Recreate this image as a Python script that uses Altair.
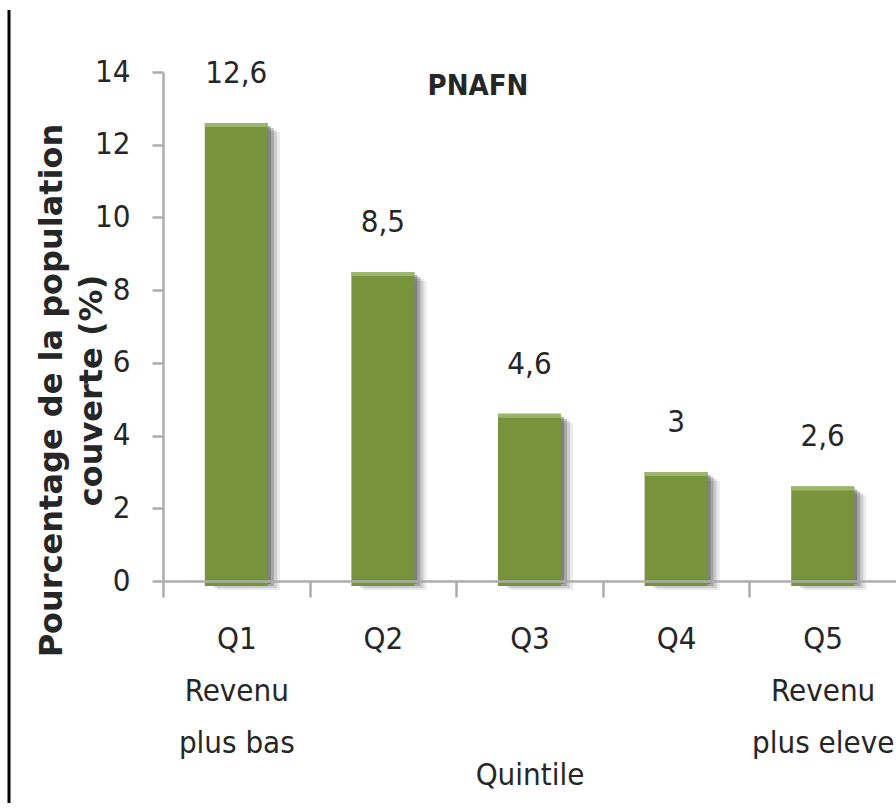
import altair as alt
import pandas as pd

# Coverage of the PNAFN programme by income quintile (%)
quintiles = ["Q1", "Q2", "Q3", "Q4", "Q5"]
coverage = [12.6, 8.5, 4.6, 3.0, 2.6]
y_ticks = [0, 2, 4, 6, 8, 10, 12, 14]

NARROW = "Liberation Sans Narrow, DejaVu Sans Condensed, sans-serif"
TEXT = "#262626"
AXIS_GREY = "#ADADAD"
GREEN = "#77933C"
FS = 31

df = pd.DataFrame({"q": quintiles, "v": coverage})

W, H = 733, 509
STEP = W / len(quintiles)

x_enc = alt.X(
    "q:N",
    sort=None,
    scale=alt.Scale(paddingInner=0, paddingOuter=0),
    axis=alt.Axis(
        title="Quintile",
        titleFont=NARROW,
        titleFontSize=FS,
        titleFontWeight="normal",
        titleColor=TEXT,
        titleX=W / 2,
        titleY=194,
        titleBaseline="middle",
        titleAlign="center",
        labelFont=NARROW,
        labelFontSize=FS,
        labelColor=TEXT,
        labelAngle=0,
        labelLineHeight=52,
        labelPadding=27,
        labelBaseline="top",
        labelExpr="datum.label == 'Q1' ? ['Q1', 'Revenu', 'plus bas'] : "
                  "datum.label == 'Q5' ? ['Q5', 'Revenu', 'plus eleve'] : datum.label",
        tickOffset=-STEP / 2,
        labelOffset=STEP / 2,
        tickSize=16,
        tickColor=AXIS_GREY,
        tickWidth=2.5,
        domainColor=AXIS_GREY,
        domainWidth=2.5,
        grid=False,
        zindex=1,
    ),
)

y_enc = alt.Y(
    "v:Q",
    scale=alt.Scale(domain=[0, 14], nice=False),
    axis=alt.Axis(
        values=y_ticks,
        title=["Pourcentage de la population", "couverte (%)"],
        titleFont="DejaVu Sans",
        titleFontSize=32,
        titleFontWeight="bold",
        titleColor=TEXT,
        titleLineHeight=40,
        titleAngle=-90,
        titleAlign="center",
        titleBaseline="top",
        titleX=-127,
        titleY=318,
        labelFont=NARROW,
        labelFontSize=FS,
        labelColor=TEXT,
        labelPadding=22,
        tickSize=11,
        tickColor=AXIS_GREY,
        tickWidth=2.5,
        domainColor=AXIS_GREY,
        domainWidth=2.5,
        grid=False,
        zindex=1,
    ),
)

base = alt.Chart(df)

# soft drop shadow to the lower right of each bar
shadows = [
    base.mark_bar(size=63, color="#555555", opacity=op, xOffset=dx, yOffset=dy, y2Offset=dy)
    .encode(x=x_enc, y=y_enc, y2=alt.datum(0))
    for dx, dy, op in [(12, 9, 0.12), (9, 7, 0.2), (6, 5, 0.32), (3, 3, 0.45)]
]

bars = base.mark_bar(size=63, color=GREEN, y2Offset=5).encode(
    x=x_enc, y=y_enc, y2=alt.datum(0)
)

# lighter top edge of the bars
bar_tops = base.mark_bar(size=63, color="#9CB66B", y2Offset=4).encode(
    x=x_enc, y=y_enc, y2="v:Q"
)

values = base.transform_calculate(
    lab="replace(toString(datum.v), '.', ',')"
).mark_text(
    font=NARROW, fontSize=FS, color=TEXT, baseline="middle", dy=-49
).encode(x=x_enc, y=y_enc, text="lab:N")

title = alt.Chart(pd.DataFrame({"t": ["PNAFN"]})).mark_text(
    font=NARROW, fontSize=29, fontWeight="bold", color=TEXT, baseline="middle"
).encode(x=alt.value(315), y=alt.value(14), text="t:N")

frame_line = alt.Chart(pd.DataFrame({"a": [0]})).mark_rule(
    color="black", strokeWidth=3
).encode(x=alt.value(-154), y=alt.value(-62), y2=alt.value(737))

chart = alt.layer(*shadows, bars, bar_tops, values, title, frame_line).properties(
    width=W,
    height=H,
    autosize=alt.AutoSizeParams(type="none"),
    padding={"left": 163, "top": 72, "right": 0, "bottom": 222},
    background="white",
).configure_view(stroke=None)

chart.save("out.html", embed_options={"renderer": "svg", "actions": False})
